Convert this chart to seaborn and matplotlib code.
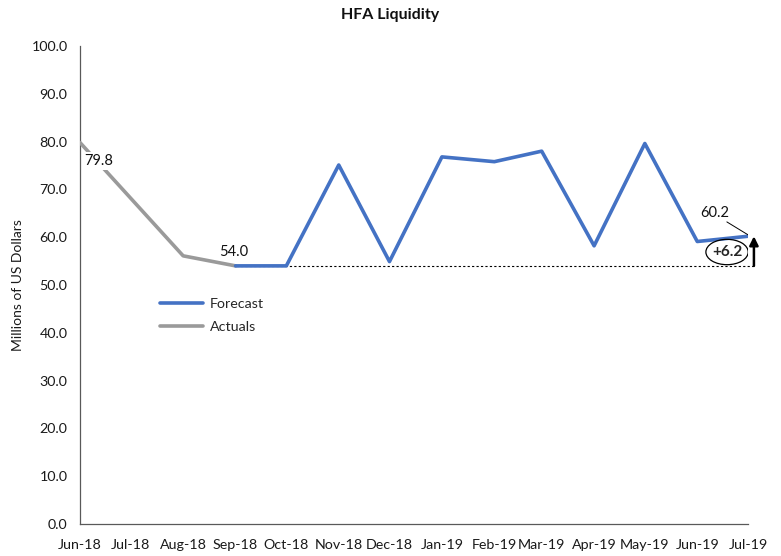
import matplotlib
matplotlib.use("Agg")
import matplotlib.pyplot as plt
import matplotlib.dates as mdates
from matplotlib.patches import Ellipse
from matplotlib.lines import Line2D
import seaborn as sns
import pandas as pd

# --- data -------------------------------------------------------------
month_labels = ["Jun-18", "Jul-18", "Aug-18", "Sep-18", "Oct-18", "Nov-18", "Dec-18",
                "Jan-19", "Feb-19", "Mar-19", "Apr-19", "May-19", "Jun-19", "Jul-19"]

actual_months = ["Jun-18", "Aug-18", "Sep-18"]
actual_values = [79.8, 56.1, 54.0]

forecast_months = ["Sep-18", "Oct-18", "Nov-18", "Dec-18", "Jan-19", "Feb-19",
                   "Mar-19", "Apr-19", "May-19", "Jun-19", "Jul-19"]
forecast_values = [54.0, 54.0, 75.1, 54.9, 76.8, 75.8, 78.0, 58.2, 79.6, 59.1, 60.2]

baseline_value = 54.0   # last actual, reference level for the change
change_label = "+6.2"

y_ticks = [0, 10, 20, 30, 40, 50, 60, 70, 80, 90, 100]

# --- frames -------------------------------------------------------------
def to_dates(labels):
    return pd.to_datetime(labels, format="%b-%y")

actual_df = pd.DataFrame({"date": to_dates(actual_months), "value": actual_values})
forecast_df = pd.DataFrame({"date": to_dates(forecast_months), "value": forecast_values})
tick_dates = to_dates(month_labels)

# --- style --------------------------------------------------------------
sns.set_style("white")
plt.rcParams["font.family"] = ["Lato", "DejaVu Sans"]

BLUE = "#4472C4"
GRAY = "#9A9A9A"
AXIS = "#595959"
TXT = "#1a1a1a"

fig = plt.figure(figsize=(7.81, 5.56), dpi=100)
ax = fig.add_axes([80 / 781, 32 / 556, 668 / 781, 478 / 556])

sns.lineplot(data=actual_df, x="date", y="value", color=GRAY, linewidth=2.6,
             ax=ax, zorder=3)
sns.lineplot(data=forecast_df, x="date", y="value", color=BLUE, linewidth=2.6,
             ax=ax, zorder=4)

# axes limits and ticks
ax.set_xlim(tick_dates[0], tick_dates[-1])
ax.set_ylim(y_ticks[0], y_ticks[-1])
ax.set_yticks(y_ticks)
ax.set_yticklabels([f"{v:.1f}" for v in y_ticks])
ax.set_xticks(tick_dates)
ax.set_xticklabels(month_labels)
ax.tick_params(axis="both", which="both", direction="out", length=5, width=0.9,
               color=AXIS, labelsize=10.3, labelcolor=TXT, pad=4)
ax.tick_params(axis="x", pad=6)

for side in ["top", "right"]:
    ax.spines[side].set_visible(False)
for side in ["left", "bottom"]:
    ax.spines[side].set_color(AXIS)
    ax.spines[side].set_linewidth(0.9)

ax.set_xlabel("")
ax.set_ylabel("Millions of US Dollars", fontsize=10, color=TXT, labelpad=5)
fig.text(0.5, 1 - 15 / 556, "HFA Liquidity", ha="center", va="center",
         fontsize=11.5, fontweight="bold", color="#111111")

# dotted reference at the last actual value
end_date = forecast_df["date"].iloc[-1]
end_value = forecast_df["value"].iloc[-1]
arrow_date = end_date + pd.Timedelta(days=3.5)
ax.plot([actual_df["date"].iloc[-1], arrow_date],
        [baseline_value, baseline_value], color="black", linestyle=(0, (2, 2)),
        linewidth=0.8, zorder=2, clip_on=False)

# arrow showing change from the last actual to the final forecast
ax.annotate("", xy=(arrow_date, end_value), xytext=(arrow_date, baseline_value),
            xycoords="data", textcoords="data",
            arrowprops=dict(arrowstyle="-|>", color="black", lw=1.8,
                            mutation_scale=13, shrinkA=0, shrinkB=0),
            annotation_clip=False, zorder=6)
ellipse_date = end_date - pd.Timedelta(days=12.4)
ax.text(ellipse_date, 56.9, change_label, ha="center", va="center",
        fontsize=11, fontweight="bold", zorder=7)
ax.add_patch(Ellipse((mdates.date2num(ellipse_date), 56.9),
                     width=25, height=5.3, fill=False, edgecolor="black",
                     linewidth=0.9, zorder=7))

# value labels
ax.text(actual_df["date"].iloc[0] + pd.Timedelta(days=11), actual_df["value"].iloc[0] - 3.8,
        f"{actual_df['value'].iloc[0]:.1f}", ha="center", va="center", fontsize=10.5,
        color="#111111", zorder=8,
        bbox=dict(boxstyle="square,pad=0.15", facecolor="white", edgecolor="none"))
ax.text(actual_df["date"].iloc[-1] - pd.Timedelta(days=1), actual_df["value"].iloc[-1] + 2.8,
        f"{actual_df['value'].iloc[-1]:.1f}", ha="center", va="center", fontsize=10.5,
        color="#111111", zorder=8)
label_date = end_date - pd.Timedelta(days=19.5)
ax.text(label_date, end_value + 4.8, f"{end_value:.1f}", ha="center", va="center",
        fontsize=10.5, color="#111111", zorder=8)
ax.plot([end_date - pd.Timedelta(days=12.5), end_date], [end_value + 3.0, end_value + 0.3],
        color="black", linewidth=0.7, zorder=8)

# legend
handles = [Line2D([0], [0], color=BLUE, lw=2.6), Line2D([0], [0], color=GRAY, lw=2.6)]
ax.legend(handles, ["Forecast", "Actuals"], loc="upper left",
          bbox_to_anchor=(0.1, 0.5), frameon=False, fontsize=10.3,
          handlelength=3.0, handletextpad=0.5, labelspacing=0.75)

fig.savefig("out.png", dpi=100)
